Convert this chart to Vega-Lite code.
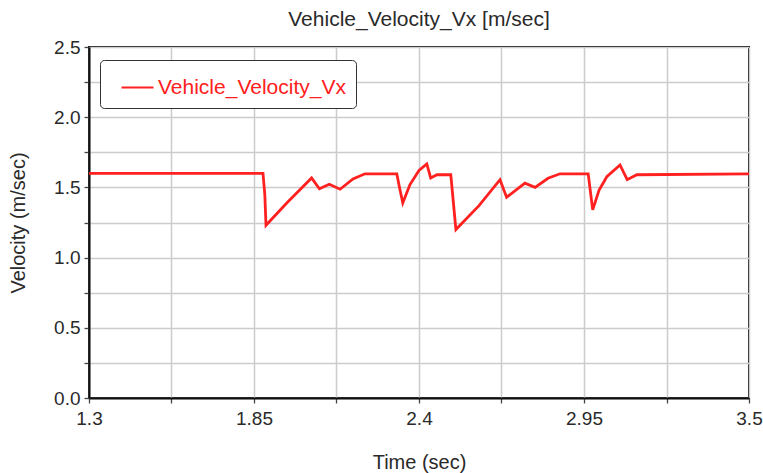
{
  "$schema": "https://vega.github.io/schema/vega-lite/v6.json",
  "autosize": "none",
  "width": 660,
  "height": 351,
  "padding": {"left": 89, "top": 47, "right": 14, "bottom": 75},
  "background": "white",
  "title": {"text": "Vehicle_Velocity_Vx [m/sec]", "anchor": "middle", "fontSize": 21, "fontWeight": "normal", "font": "Liberation Sans", "color": "#2a2a2a", "offset": 8},
  "config": {
    "view": {"stroke": "#111", "strokeWidth": 2},
    "font": "Liberation Sans",
    "axis": {"domainColor": "#111", "domainWidth": 2, "tickColor": "#444", "tickSize": 5, "tickWidth": 1.3, "gridColor": "#cccccc", "gridWidth": 1.5, "labelFontSize": 19, "labelColor": "#2a2a2a", "titleFontSize": 20, "titleFontWeight": "normal", "titleColor": "#2a2a2a", "labelFont": "Liberation Sans", "titleFont": "Liberation Sans"}
  },
  "data": {"values": [
    {"t": 1.3, "v": 1.6, "s": "Vehicle_Velocity_Vx"},
    {"t": 1.88, "v": 1.6, "s": "Vehicle_Velocity_Vx"},
    {"t": 1.886, "v": 1.45, "s": "Vehicle_Velocity_Vx"},
    {"t": 1.89, "v": 1.23, "s": "Vehicle_Velocity_Vx"},
    {"t": 1.96, "v": 1.39, "s": "Vehicle_Velocity_Vx"},
    {"t": 2.042, "v": 1.567, "s": "Vehicle_Velocity_Vx"},
    {"t": 2.068, "v": 1.49, "s": "Vehicle_Velocity_Vx"},
    {"t": 2.101, "v": 1.522, "s": "Vehicle_Velocity_Vx"},
    {"t": 2.137, "v": 1.487, "s": "Vehicle_Velocity_Vx"},
    {"t": 2.18, "v": 1.56, "s": "Vehicle_Velocity_Vx"},
    {"t": 2.22, "v": 1.597, "s": "Vehicle_Velocity_Vx"},
    {"t": 2.326, "v": 1.597, "s": "Vehicle_Velocity_Vx"},
    {"t": 2.335, "v": 1.5, "s": "Vehicle_Velocity_Vx"},
    {"t": 2.346, "v": 1.39, "s": "Vehicle_Velocity_Vx"},
    {"t": 2.37, "v": 1.52, "s": "Vehicle_Velocity_Vx"},
    {"t": 2.4, "v": 1.62, "s": "Vehicle_Velocity_Vx"},
    {"t": 2.426, "v": 1.667, "s": "Vehicle_Velocity_Vx"},
    {"t": 2.439, "v": 1.567, "s": "Vehicle_Velocity_Vx"},
    {"t": 2.46, "v": 1.59, "s": "Vehicle_Velocity_Vx"},
    {"t": 2.506, "v": 1.59, "s": "Vehicle_Velocity_Vx"},
    {"t": 2.523, "v": 1.2, "s": "Vehicle_Velocity_Vx"},
    {"t": 2.6, "v": 1.37, "s": "Vehicle_Velocity_Vx"},
    {"t": 2.67, "v": 1.555, "s": "Vehicle_Velocity_Vx"},
    {"t": 2.692, "v": 1.43, "s": "Vehicle_Velocity_Vx"},
    {"t": 2.753, "v": 1.53, "s": "Vehicle_Velocity_Vx"},
    {"t": 2.787, "v": 1.5, "s": "Vehicle_Velocity_Vx"},
    {"t": 2.83, "v": 1.565, "s": "Vehicle_Velocity_Vx"},
    {"t": 2.87, "v": 1.597, "s": "Vehicle_Velocity_Vx"},
    {"t": 2.964, "v": 1.597, "s": "Vehicle_Velocity_Vx"},
    {"t": 2.979, "v": 1.34, "s": "Vehicle_Velocity_Vx"},
    {"t": 3.0, "v": 1.48, "s": "Vehicle_Velocity_Vx"},
    {"t": 3.026, "v": 1.576, "s": "Vehicle_Velocity_Vx"},
    {"t": 3.07, "v": 1.66, "s": "Vehicle_Velocity_Vx"},
    {"t": 3.094, "v": 1.555, "s": "Vehicle_Velocity_Vx"},
    {"t": 3.126, "v": 1.59, "s": "Vehicle_Velocity_Vx"},
    {"t": 3.5, "v": 1.597, "s": "Vehicle_Velocity_Vx"}
  ]},
  "mark": {"type": "line", "strokeWidth": 2.8, "clip": true},
  "encoding": {
    "x": {"field": "t", "type": "quantitative", "title": "Time (sec)",
      "scale": {"domain": [1.3, 3.5], "nice": false, "zero": false},
      "axis": {"values": [1.3, 1.575, 1.85, 2.125, 2.4, 2.675, 2.95, 3.225, 3.5],
        "labelExpr": "(round((datum.value-1.3)/0.275) % 2 == 0) ? format(datum.value, '.3~g') : ''",
        "labelPadding": 6, "titlePadding": 24, "labelFlush": false}},
    "y": {"field": "v", "type": "quantitative", "title": "Velocity (m/sec)",
      "scale": {"domain": [0, 2.5], "nice": false},
      "axis": {"values": [0, 0.25, 0.5, 0.75, 1, 1.25, 1.5, 1.75, 2, 2.25, 2.5],
        "labelExpr": "(round(datum.value*4) % 2 == 0) ? format(datum.value, '.1f') : ''",
        "labelPadding": 4, "titlePadding": 25, "labelFlush": false}},
    "color": {"field": "s", "type": "nominal",
      "scale": {"range": ["#ff2020"]},
      "legend": {"title": null, "orient": "none", "legendX": 11, "legendY": 13, "strokeColor": "#333", "cornerRadius": 4, "padding": 10, "fillColor": "white",
        "symbolType": "stroke", "symbolSize": 1024, "symbolStrokeWidth": 2.2, "symbolOffset": 10,
        "labelFontSize": 21, "labelColor": "#ff2020", "labelOffset": 3, "labelLimit": 400, "labelFont": "Liberation Sans"}}
  }
}
